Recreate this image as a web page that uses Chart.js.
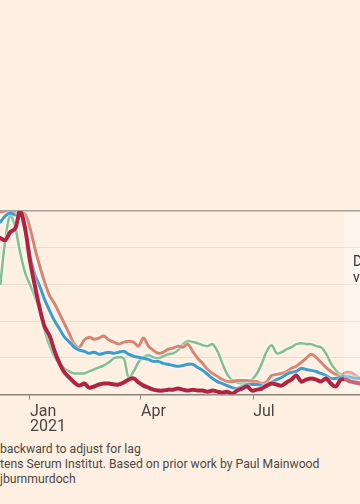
<!DOCTYPE html>
<html lang="en">
<head>
  <meta charset="UTF-8">
  <title>Cases index chart</title>
  <script src="https://cdn.jsdelivr.net/npm/chart.js"></script>
  <style>
    * { box-sizing: border-box; margin: 0; padding: 0; }

    body {
      width: 360px;
      height: 504px;
      overflow: hidden;
      background: #fdf0e3;
      font-family: 'Roboto', sans-serif;
      position: relative;
    }

    .chart-box {
      position: absolute;
      left: 0;
      top: 0;
      width: 360px;
      height: 440px;
    }

    .notes {
      position: absolute;
      left: 0;
      top: 442px;
      font-size: 12.2px;
      line-height: 15px;
      color: #4d4845;
      white-space: nowrap;
    }
  </style>
</head>
<body>

<div class="chart-box">
  <canvas id="casesChart" width="360" height="440"></canvas>
</div>

<div class="notes">
  <div>backward to adjust for lag</div>
  <div>tens Serum Institut. Based on prior work by Paul Mainwood</div>
  <div>jburnmurdoch</div>
</div>

<script>
  // days counted from 1 Jan 2021
  const days = [
    -24, -20, -16, -12, -8, -4, 0, 4, 8, 12, 16, 20, 24, 28, 32, 36, 40, 44, 48, 52,
    56, 60, 64, 68, 72, 76, 80, 84, 88, 92, 96, 100, 104, 108, 112, 116, 120, 124, 128, 132,
    136, 140, 144, 148, 152, 156, 160, 164, 168, 172, 176, 180, 184, 188, 192, 196, 200, 204, 208, 212,
    216, 220, 224, 228, 232, 236, 240, 244, 248, 252, 256, 260, 264, 268
  ];

  // index, peak = 100
  const redSeries = [
    85.2, 84.1, 88.5, 90.4, 100, 90.7, 73.1, 59.3, 46.7, 36.8, 31.9, 23.6, 17, 12.1, 9.3, 6.6, 4.9, 6, 3.8, 4.4,
    5.5, 6, 6, 5.5, 5.5, 6.6, 8.2, 8.8, 6.6, 4.9, 3.8, 2.7, 2.2, 2.2, 2.7, 2.7, 3.3, 2.7, 2.2, 2.7,
    2.2, 2.2, 1.6, 2.2, 1.6, 1.1, 1.6, 0.5, 2.2, 3.3, 4.4, 2.2, 2.7, 3.3, 4.9, 6, 5.5, 4.9, 6.6, 8.2,
    10.4, 7.1, 8.2, 8.8, 8.2, 7.1, 8.8, 6, 4.4, 8.2, 8.2, 7.1, 6.6, 6
  ];

  const blueSeries = [
    94, 97.3, 98.9, 97.8, 97.8, 89.6, 75.8, 65.4, 58.8, 51.6, 45.6, 40.1, 35.7, 31.3, 28.6, 25.8, 24.2, 23.6, 22.5, 23.1,
    22, 22.5, 23.1, 22.5, 23.1, 23.6, 22, 20.9, 20.3, 19.8, 19.2, 18.1, 18.1, 17, 16.5, 15.9, 15.4, 15.9, 16.5, 16.5,
    14.8, 13.2, 11, 8.8, 7.1, 6, 4.9, 3.8, 3.3, 4.4, 5.5, 5.5, 5.5, 4.9, 4.4, 6.6, 8.2, 9.3, 11, 12.1,
    12.6, 14.3, 13.7, 13.2, 12.6, 11.5, 10.4, 8.8, 8.8, 9.3, 9.9, 9.3, 8.8, 8.8
  ];

  const pinkSeries = [
    99.5, 100, 100, 99.5, 99.5, 98.4, 90.7, 79.7, 69.8, 61, 53.8, 49.5, 44, 38.5, 33, 27.5, 25.8, 29.7, 31.3, 30.2,
    30.8, 31.9, 29.7, 28.6, 27.5, 28.6, 29.1, 28.6, 26.4, 30.8, 26.4, 24.2, 22.5, 23.1, 24.7, 25.3, 26.4, 25.8, 27.5, 23.6,
    19.8, 17, 13.7, 11.5, 9.9, 8.2, 7.1, 7.1, 7.7, 7.7, 7.7, 7.1, 7.1, 6, 7.1, 10.4, 11, 11.5, 12.6, 14.3,
    15.4, 17.6, 19.8, 22, 20.3, 17.6, 14.8, 12.6, 11, 9.9, 12.1, 12.1, 10.4, 8.8
  ];

  const greenSeries = [
    60.4, 84.1, 97.8, 91.2, 77.5, 66.5, 59.9, 53.3, 45.6, 34.6, 26.4, 20.3, 17, 14.3, 12.6, 11.5, 11.5, 11.5, 12.6, 13.7,
    14.8, 15.9, 17.6, 19.8, 20.3, 19.8, 9.3, 12.6, 17.6, 20.3, 21.4, 20.3, 19.8, 20.9, 22, 22.5, 24.2, 27.5, 29.1, 28.6,
    28, 26.9, 26.4, 27.5, 23.6, 17, 11, 7.7, 6.6, 6, 7.1, 8.2, 11.5, 17, 23.6, 26.9, 22.5, 23.1, 24.7, 25.8,
    27.5, 28, 27.5, 27.5, 26.4, 25.8, 22.5, 17, 13.2, 11, 11.5, 10.4, 9.3, 8.8
  ];

  const tickDays = [0, 90, 181];
  const tickLabels = [['Jan', '2021'], 'Apr', 'Jul'];

  const toPoints = vals => vals.map((v, i) => ({ x: days[i], y: v }));

  // soft pale halo around every line
  const halo = {
    id: 'halo',
    beforeDatasetDraw(chart) {
      chart.ctx.save();
      chart.ctx.shadowColor = 'rgba(255, 255, 255, 0.9)';
      chart.ctx.shadowBlur = 3;
    },
    afterDatasetDraw(chart) {
      chart.ctx.restore();
    }
  };

  // cut-off annotation at right edge
  const annotation = {
    id: 'annotation',
    afterDraw(chart) {
      const ctx = chart.ctx;
      ctx.save();
      ctx.fillStyle = 'rgba(255, 255, 255, 0.3)';
      ctx.fillRect(344, 212, 16, 180);
      ctx.fillStyle = '#33302e';
      ctx.font = '14px Roboto';
      ctx.textBaseline = 'middle';
      ctx.fillText('Delta', 353, 262);
      ctx.fillText('variant', 353, 278);
      ctx.restore();
    }
  };

  const line = (data, color, width) => ({
    data: toPoints(data),
    borderColor: color,
    borderWidth: width,
    pointRadius: 0,
    tension: 0.35,
    borderJoinStyle: 'round',
    borderCapStyle: 'round'
  });

  new Chart(document.getElementById('casesChart'), {
    type: 'line',
    data: {
      datasets: [
        line(redSeries, '#b3223e', 4),
        line(blueSeries, '#3a9dd0', 3),
        line(pinkSeries, '#dc836f', 3),
        line(greenSeries, '#7fc092', 2.5)
      ]
    },
    options: {
      responsive: false,
      devicePixelRatio: 1,
      animation: false,
      layout: { padding: { top: 211, left: 0, right: 0, bottom: 0 } },
      plugins: { legend: { display: false }, tooltip: { enabled: false } },
      scales: {
        x: {
          type: 'linear',
          min: -24.3,
          max: 267.6,
          afterBuildTicks: axis => { axis.ticks = tickDays.map(v => ({ value: v })); },
          ticks: {
            align: 'start',
            maxRotation: 0,
            padding: 5,
            color: '#4a4542',
            font: { family: 'Roboto', size: 16, lineHeight: 0.95 },
            callback: v => tickLabels[tickDays.indexOf(v)]
          },
          grid: { drawOnChartArea: false, drawTicks: true, tickLength: 5, color: '#8a837d', lineWidth: 1 },
          border: { display: true, color: '#8a837d', width: 1.5 }
        },
        y: {
          min: 0,
          max: 100,
          ticks: { display: false, stepSize: 20 },
          grid: {
            drawTicks: false,
            color: c => c.tick.value === 100 ? '#a8a098' : (c.tick.value === 0 ? 'rgba(0,0,0,0)' : '#eadccf'),
            lineWidth: c => c.tick.value === 100 ? 1.5 : 1
          },
          border: { display: false }
        }
      }
    },
    plugins: [halo, annotation]
  });
</script>

</body>
</html>
